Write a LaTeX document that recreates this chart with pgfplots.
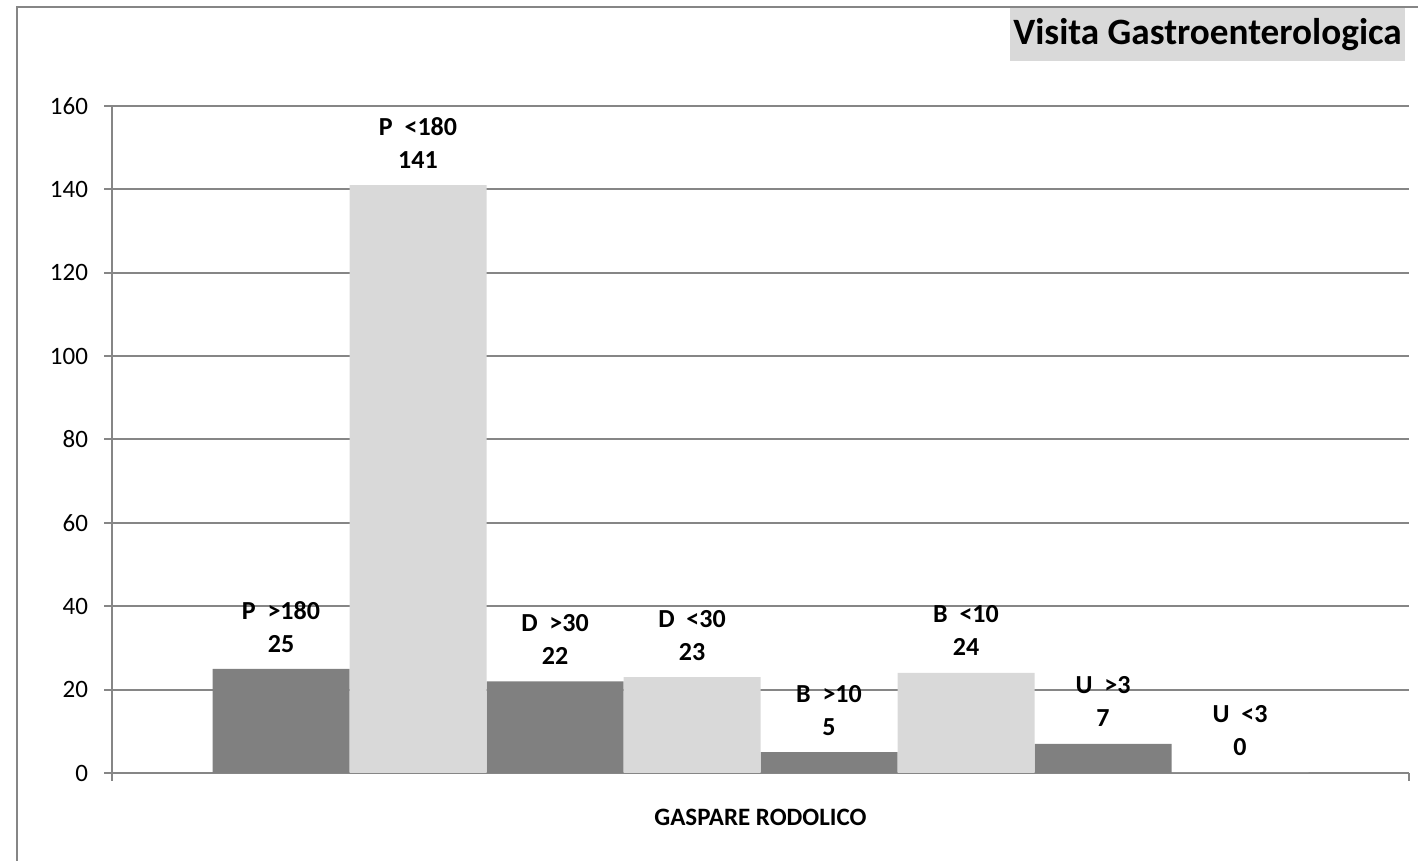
\documentclass[border=0pt]{standalone}
\usepackage{fontspec}
\setmainfont{Carlito}
\usepackage{pgfplots}
\pgfplotsset{compat=1.18}
\usepackage{pgfplotstable}
\definecolor{axgray}{RGB}{134,134,134}
\definecolor{darkbar}{RGB}{128,128,128}
\definecolor{lightbar}{RGB}{217,217,217}

\pgfplotstableread{
x y lab
0 25 {P~~>180}
2 22 {D~~>30}
4 5 {B~~>10}
6 7 {U~~>3}
}\darkdata
\pgfplotstableread{
x y lab
1 141 {P~~<180}
3 23 {D~~<30}
5 24 {B~~<10}
7 0 {U~~<3}
}\lightdata

\begin{document}
\begin{tikzpicture}
\path[use as bounding box] (0,0) rectangle (709pt,430.5pt);
\draw[axgray, line width=1.3pt] (8.5pt,0) -- (8.5pt,427pt) -- (709pt,427pt);
\node[fill=lightbar, minimum width=197.5pt, minimum height=26.5pt, inner sep=0pt,
      font=\bfseries\fontsize{18.6}{21}\selectfont] at (603.75pt,413.25pt) {Visita Gastroenterologica};
\begin{axis}[
  at={(56pt,44pt)}, anchor=south west,
  scale only axis, width=648.5pt, height=333.5pt,
  ybar, bar width=1, bar shift=0pt,
  enlargelimits=false,
  xmin=-1.2336, xmax=8.2336, ymin=0, ymax=160,
  ytick={0,20,...,160},
  xtick={-1.2336,8.2336}, xticklabels={},
  axis x line=bottom, axis y line=left,
  axis line style={-, axgray, line width=1pt},
  ymajorgrids, major grid style={axgray, line width=1pt},
  tick style={axgray, line width=1pt}, tick align=outside, major tick length=4pt,
  /pgf/number format/assume math mode=true,
  yticklabel style={font=\fontsize{12.5}{14}\selectfont, black, xshift=-4.5pt},
  clip=false,
  xlabel={GASPARE RODOLICO},
  xlabel style={at={(axis description cs:0.5,0)}, anchor=center, yshift=-22pt,
                font=\bfseries\fontsize{12.5}{14}\selectfont},
  point meta=explicit symbolic,
  visualization depends on={rawy\as\rawy},
  nodes near coords={\pgfplotspointmeta\\\pgfmathprintnumber{\rawy}},
  every node near coord/.append style={anchor=center, yshift=21pt, align=center,
     font=\bfseries\fontsize{13}{16.5}\selectfont, black},
]
\addplot[fill=darkbar, draw=none] table[x=x,y=y,meta=lab] {\darkdata};
\addplot[fill=lightbar, draw=none] table[x=x,y=y,meta=lab] {\lightdata};
\end{axis}
\end{tikzpicture}
\end{document}
